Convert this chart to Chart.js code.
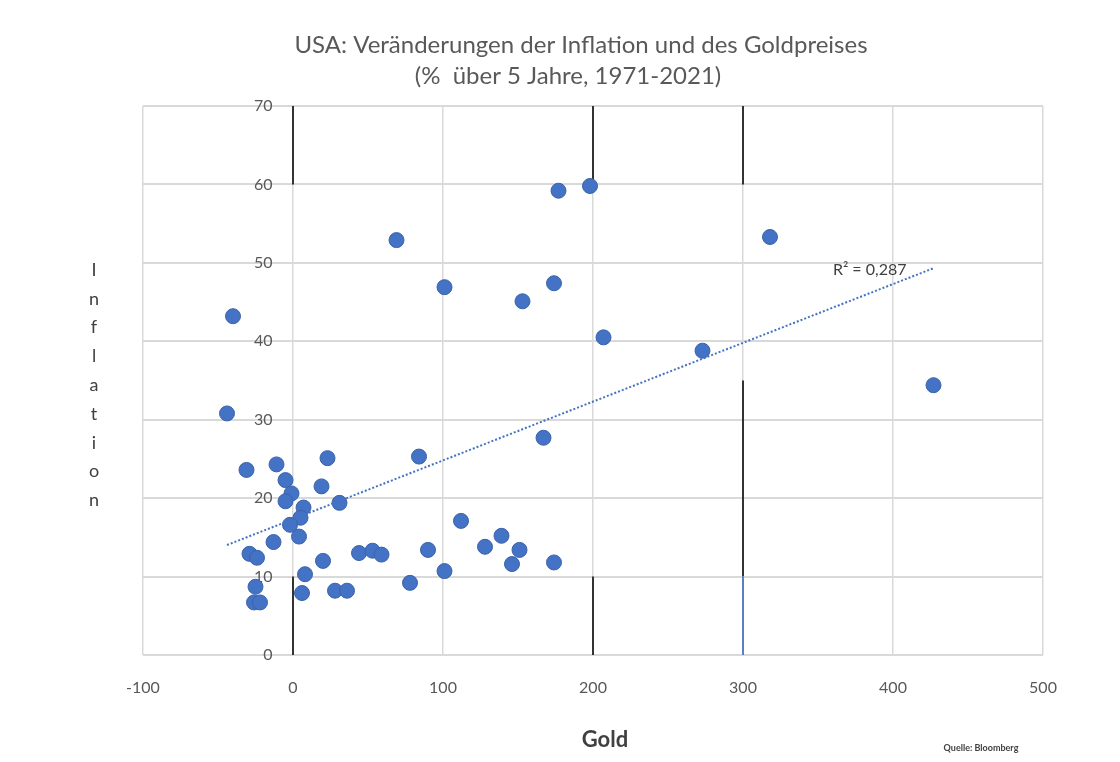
<!DOCTYPE html>
<html>
<head>
<meta charset="utf-8">
<script src="https://cdn.jsdelivr.net/npm/chart.js@4.4.0/dist/chart.umd.min.js"></script>
<style>
  body { margin: 0; background: #fff; }
  #wrap { width: 1120px; height: 762px; }
</style>
</head>
<body>
<div id="wrap"><canvas id="goldChart" width="1120" height="762"></canvas></div>
<script>
// USA: inflation vs gold price change (% over 5 years, 1971-2021)

const gold = [177, 198, 69, 318, 101, 174, 153, -40, 207, 273, 427, -44, 167, 23, 84,
    -11, -31, -5, 19, -1, -5, 31, 7, 5, -2, 112, 139, 4, -13, 128, 151, 90, -29, -24,
    44, 53, 59, 20, 146, 174, 101, 8, 78, -25, 28, 36, 6, -26, -22];
const inflation = [59.2, 59.8, 52.9, 53.3, 46.9, 47.4, 45.1, 43.2, 40.5, 38.8, 34.4, 30.8, 27.7, 25.1, 25.3,
    24.3, 23.6, 22.3, 21.5, 20.6, 19.6, 19.4, 18.8, 17.5, 16.6, 17.1, 15.2, 15.1, 14.4, 13.8, 13.4, 13.4, 12.9, 12.4,
    13.0, 13.3, 12.8, 12.0, 11.6, 11.8, 10.7, 10.3, 9.2, 8.7, 8.2, 8.2, 7.9, 6.7, 6.7];

const xTicks = [-100, 0, 100, 200, 300, 400, 500];
const yTicks = [0, 10, 20, 30, 40, 50, 60, 70];

const titleLines = ['USA: Veränderungen der Inflation und des Goldpreises', '(%  über 5 Jahre, 1971-2021)'];
const yTitle = 'Inflation';
const xTitle = 'Gold';
const sourceText = 'Quelle: Bloomberg';
const r2Text = 'R² = 0,287';

// dark vertical grid segments seen in the original: [x, yFrom, yTo, colour]
const darkSegments = [
    [0, 60, 70, '#333333'], [0, 0, 10, '#333333'],
    [200, 60, 70, '#333333'], [200, 0, 10, '#333333'],
    [300, 60, 70, '#333333'], [300, 10, 35, '#333333'], [300, 0, 10, '#5b7fc4']
];

// Linear trend (least squares) over the points
function linearFit(xs, ys) {
    const n = xs.length;
    const mx = xs.reduce((a, b) => a + b, 0) / n;
    const my = ys.reduce((a, b) => a + b, 0) / n;
    let sxy = 0, sxx = 0;
    xs.forEach((x, i) => {
        sxy += (x - mx) * (ys[i] - my);
        sxx += (x - mx) * (x - mx);
    });
    const slope = sxy / sxx;
    return { slope, intercept: my - slope * mx };
}

const fit = linearFit(gold, inflation);
const xMin = Math.min(...gold);
const xMax = Math.max(...gold);
const trend = [xMin, xMax].map(x => ({ x, y: fit.intercept + fit.slope * x }));

const FONT = 'Lato, "Open Sans", sans-serif';

// Dark grid segments under the points
const segmentPlugin = {
    id: 'segmentPlugin',
    beforeDatasetsDraw(chart) {
        const ctx = chart.ctx;
        const xs = chart.scales.x;
        const ys = chart.scales.y;
        ctx.save();
        ctx.lineWidth = 2;
        darkSegments.forEach(([x, y0, y1, col]) => {
            ctx.strokeStyle = col;
            ctx.beginPath();
            ctx.moveTo(xs.getPixelForValue(x), ys.getPixelForValue(y0));
            ctx.lineTo(xs.getPixelForValue(x), ys.getPixelForValue(y1));
            ctx.stroke();
        });
        ctx.restore();
    }
};

// Extra texts: title, axis titles, source, R² label
const textPlugin = {
    id: 'textPlugin',
    afterDraw(chart) {
        const ctx = chart.ctx;
        const xs = chart.scales.x;
        const ys = chart.scales.y;
        ctx.save();
        ctx.textAlign = 'center';
        ctx.textBaseline = 'middle';

        ctx.fillStyle = '#595959';
        ctx.font = '24px ' + FONT;
        ctx.fillText(titleLines[0], 581, 45);
        ctx.fillText(titleLines[1], 568, 76);

        ctx.fillStyle = '#404040';
        ctx.font = '18px ' + FONT;
        yTitle.split('').forEach((ch, i) => {
            ctx.fillText(ch, 94, 270 + i * 28.8);
        });

        ctx.font = 'bold 22px ' + FONT;
        ctx.fillText(xTitle, 605, 740);

        ctx.font = 'bold 9px ' + FONT;
        ctx.fillText(sourceText, 981, 748);

        // R² label near the end of the trendline
        const end = trend[trend.length - 1];
        ctx.font = '16px ' + FONT;
        ctx.textAlign = 'right';
        ctx.fillText(r2Text, xs.getPixelForValue(end.x) - 27, ys.getPixelForValue(end.y) + 2);
        ctx.restore();
    }
};

const ctx = document.getElementById('goldChart').getContext('2d');
new Chart(ctx, {
    type: 'scatter',
    data: {
        datasets: [{
            label: 'Trend',
            type: 'line',
            data: trend,
            borderColor: '#4472C4',
            borderWidth: 2,
            borderDash: [2, 2],
            pointRadius: 0,
            fill: false,
            order: 0
        }, {
            label: 'Inflation vs Gold',
            data: gold.map((g, i) => ({ x: g, y: inflation[i] })),
            backgroundColor: '#4472C4',
            borderColor: '#3a62aa',
            borderWidth: 1,
            pointRadius: 7.5,
            order: 1
        }]
    },
    options: {
        responsive: false,
        animation: false,
        layout: {
            padding: { left: 143, right: 77, top: 106, bottom: 0 }
        },
        plugins: {
            legend: { display: false },
            tooltip: { enabled: false }
        },
        scales: {
            x: {
                type: 'linear',
                min: xTicks[0],
                max: xTicks[xTicks.length - 1],
                afterBuildTicks: s => { s.ticks = xTicks.map(v => ({ value: v })); },
                afterFit: s => { s.height = 107; },
                ticks: {
                    padding: 23,
                    color: '#595959',
                    font: { family: FONT, size: 16 }
                },
                grid: { color: '#d9d9d9', lineWidth: 1.5, drawTicks: false },
                border: { display: false }
            },
            y: {
                type: 'linear',
                position: { x: 0 },
                min: yTicks[0],
                max: yTicks[yTicks.length - 1],
                afterBuildTicks: s => { s.ticks = yTicks.map(v => ({ value: v })); },
                ticks: {
                    color: '#595959',
                    font: { family: FONT, size: 16 },
                    // axis sits at x = 0; trailing spaces keep labels left of the line
                    callback: v => v + '     '
                },
                grid: { color: '#d9d9d9', lineWidth: 2, drawTicks: false },
                border: { display: false }
            }
        }
    },
    plugins: [segmentPlugin, textPlugin]
});
</script>
</body>
</html>
